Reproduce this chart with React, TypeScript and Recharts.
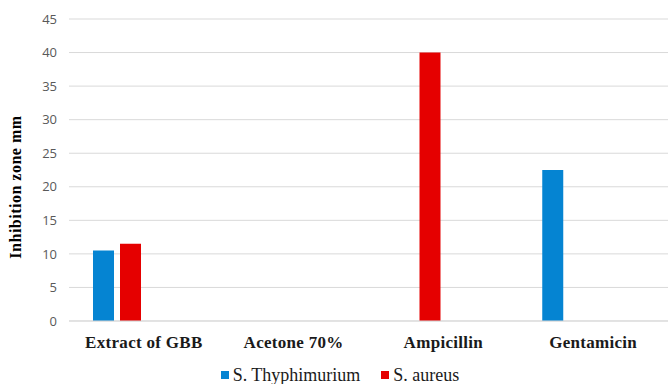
import React from 'react';
import {
  BarChart,
  Bar,
  XAxis,
  YAxis,
  CartesianGrid,
  Legend
} from 'recharts';

const treatments = ['Extract of GBB', 'Acetone 70%', 'Ampicillin', 'Gentamicin'];
const typhimurium = [10.5, 0, 0, 22.5];
const aureus = [11.5, 0, 40, 0];
const yTicks = [0, 5, 10, 15, 20, 25, 30, 35, 40, 45];

const data = treatments.map((name, i) => ({
  name,
  typhimurium: typhimurium[i],
  aureus: aureus[i]
}));

const serif = 'Liberation Serif';

const CategoryTick = (props: any) => {
  const { x, y, payload } = props;
  return (
    <text
      x={x}
      y={y + 19}
      textAnchor="middle"
      fontFamily={serif}
      fontSize={17}
      fontWeight={700}
      fill="#1a1a1a"
      letterSpacing={0.3}
    >
      {payload.value}
    </text>
  );
};

const AxisTitle = (props: any) => {
  const { viewBox } = props;
  const cx = 15;
  const cy = viewBox.y + viewBox.height / 2 + 17;
  return (
    <text
      x={cx}
      y={cy}
      transform={`rotate(-90 ${cx} ${cy})`}
      textAnchor="middle"
      dominantBaseline="central"
      fontFamily={serif}
      fontSize={16}
      fontWeight={700}
      fill="#000"
      letterSpacing={0.5}
    >
      Inhibition zone mm
    </text>
  );
};

const LegendContent = (props: any) => {
  const { payload } = props;
  return (
    <div
      style={{
        display: 'flex',
        justifyContent: 'center',
        gap: 21,
        fontFamily: serif,
        fontSize: 18,
        lineHeight: '18px',
        color: '#1a1a1a',
        paddingLeft: 12
      }}
    >
      {payload
        .filter((p: any) => p.type !== 'none')
        .map((p: any) => (
          <span key={p.value} style={{ display: 'flex', alignItems: 'center' }}>
            <span style={{ width: 8, height: 8, background: p.color, marginRight: 4, display: 'inline-block' }} />
            <span style={{ fontFamily: serif }}>{p.value}</span>
          </span>
        ))}
    </div>
  );
};

const App: React.FC = () => {
  return (
    <div style={{ position: 'absolute', left: 0, top: 0, background: '#fff' }}>
      <BarChart
        width={668}
        height={384}
        data={data}
        margin={{ top: 19, right: 0, bottom: 0, left: 0 }}
        barCategoryGap={24}
        barGap={6}
      >
        <CartesianGrid vertical={false} stroke="#d9d9d9" />
        <XAxis
          dataKey="name"
          axisLine={{ stroke: '#d9d9d9' }}
          tickLine={false}
          height={41}
          tick={<CategoryTick />}
        />
        <YAxis
          domain={[0, 45]}
          ticks={yTicks}
          width={69}
          axisLine={false}
          tickLine={false}
          tickMargin={6}
          tick={{ fontFamily: 'Open Sans', fontSize: 13, fill: '#595959' }}
          label={<AxisTitle />}
        />
        <Legend verticalAlign="bottom" height={22} content={<LegendContent />} wrapperStyle={{ bottom: -4 }} />
        <Bar dataKey="typhimurium" name="S. Thyphimurium" fill="#0584d2" isAnimationActive={false} />
        <Bar dataKey="aureus" name="S. aureus" fill="#e50000" isAnimationActive={false} />
        {/* two empty slots keep the pairs on the left of each group */}
        <Bar dataKey="slot3" legendType="none" fill="none" isAnimationActive={false} />
        <Bar dataKey="slot4" legendType="none" fill="none" isAnimationActive={false} />
      </BarChart>
    </div>
  );
};

export default App;
